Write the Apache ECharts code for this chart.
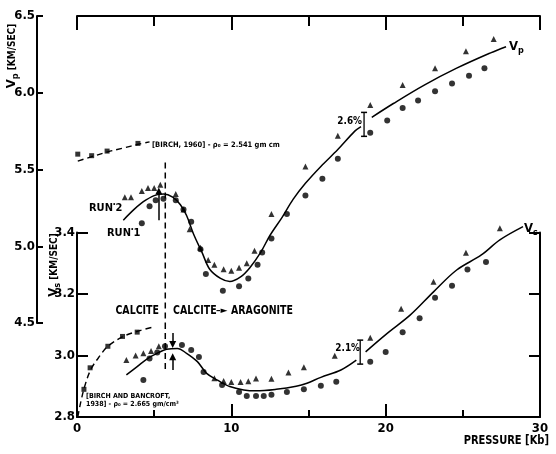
<!DOCTYPE html>
<html><head><meta charset="utf-8">
<script src="https://cdn.jsdelivr.net/npm/echarts@6/dist/echarts.min.js"></script>
<style>html,body{margin:0;padding:0;background:#fff}#c{width:556px;height:454px}</style>
</head><body><div id="c"></div>
<script>
// ---------- data ----------
// Vp, run 1 (circles)
const vpRun1P = [4.2,4.7,5.1,5.6,6.4,6.9,7.4,8.0,8.35,9.45,10.5,11.1,11.7,12.0,12.6,13.6,14.8,15.9,16.9,19.0,20.1,21.1,22.1,23.2,24.3,25.4,26.4];
const vpRun1V = [5.15,5.26,5.30,5.31,5.30,5.24,5.16,4.98,4.82,4.71,4.74,4.79,4.88,4.96,5.05,5.21,5.33,5.44,5.57,5.74,5.82,5.90,5.95,6.01,6.06,6.11,6.16];
// Vp, run 2 (triangles)
const vpRun2P = [3.1,3.5,4.2,4.6,5.0,5.4,6.4,6.9,7.3,8.0,8.5,8.9,9.5,10.0,10.5,11.0,11.5,12.6,14.8,16.9,19.0,21.1,23.2,25.2,27.0];
const vpRun2V = [5.32,5.32,5.36,5.38,5.38,5.40,5.34,5.24,5.11,4.99,4.91,4.88,4.85,4.84,4.86,4.89,4.97,5.21,5.52,5.72,5.92,6.05,6.16,6.27,6.35];
// Vp fitted curve (two pieces, broken at the 2.6% bar)
const vpFitAP = [3.0,3.7,4.3,5.0,5.6,6.2,6.7,7.1,7.55,8.1,8.6,9.3,9.9,10.6,11.2,11.9,12.5,13.3,14.0,14.8,15.8,16.9,18.0,18.4];
const vpFitAV = [5.17,5.24,5.29,5.33,5.34,5.32,5.27,5.20,5.08,4.96,4.85,4.79,4.77,4.80,4.86,4.96,5.07,5.19,5.305,5.41,5.52,5.63,5.75,5.78];
const vpFitBP = [19.1,20.5,22.5,24.6,26.8,27.8];
const vpFitBV = [5.84,5.93,6.05,6.16,6.26,6.30];
// Birch 1960 Vp
const birchP = [0.05,0.95,1.95,3.95];
const birchV = [5.60,5.59,5.62,5.67];
const birchFitP = [0.05,1.0,2.0,3.0,4.0,4.7];
const birchFitV = [5.555,5.585,5.615,5.64,5.665,5.68];

// Vs, run 1 (circles)
const vsRun1P = [4.3,4.7,5.2,5.7,6.8,7.4,7.9,8.2,9.4,10.5,11.0,11.6,12.1,12.6,13.6,14.7,15.8,16.8,19.0,20.0,21.1,22.2,23.2,24.3,25.3,26.5];
const vsRun1V = [2.92,2.99,3.01,3.03,3.034,3.018,2.995,2.946,2.904,2.881,2.868,2.868,2.868,2.872,2.881,2.89,2.902,2.915,2.98,3.011,3.076,3.121,3.188,3.227,3.28,3.304];
// Vs, run 2 (triangles)
const vsRun2P = [3.2,3.8,4.3,4.8,5.3,8.9,9.5,10.0,10.6,11.1,11.6,12.6,13.7,14.7,16.7,19.0,21.0,23.1,25.2,27.4];
const vsRun2V = [2.985,3.00,3.007,3.015,3.03,2.926,2.917,2.914,2.914,2.916,2.925,2.924,2.945,2.962,2.999,3.058,3.152,3.24,3.334,3.414];
// Vs fitted curve
const vsFitAP = [3.2,3.9,4.6,5.3,5.8,6.5,7.1,7.8,8.4,9.1,9.9,10.8,11.6,12.9,14.2,14.9,15.8,17.1,18.1];
const vsFitAV = [2.937,2.964,2.991,3.01,3.02,3.023,3.007,2.98,2.942,2.92,2.899,2.888,2.885,2.89,2.90,2.91,2.929,2.953,2.985];
const vsFitBP = [18.7,20.1,21.6,23.1,24.6,26.2,27.4,28.9];
const vsFitBV = [3.012,3.072,3.132,3.207,3.278,3.327,3.376,3.419];
// Birch & Bancroft 1938 Vs
const bbP = [0.45,0.85,2.0,2.95,3.9];
const bbV = [2.89,2.96,3.03,3.062,3.076];
const bbFitP = [0.05,0.25,0.5,0.9,1.5,2.0,3.0,4.0,4.9];
const bbFitV = [2.80,2.85,2.90,2.955,3.0,3.03,3.062,3.08,3.092];

// transition marker and annotations
const transitionP = 5.72;
const vpDashV = [5.545, 4.5];
const vsDashV = [3.106, 2.95];
const vpArrow = [[5.3,5.17],[5.3,5.36]];
const vsArrowDown = [[6.2,3.073],[6.2,3.036]];
const vsArrowUp = [[6.2,2.953],[6.2,2.996]];
const vpErrBar = [[18.6,5.716],[18.6,5.872]];
const vsErrBar = [[18.35,2.972],[18.35,3.05]];

const vpTicks = [4.5,5.0,5.5,6.0,6.5];
const vsTicks = [2.8,3.0,3.2,3.4];
const pTicks = [0,10,20,30];

// ---------- chart ----------
const zip = (a,b) => a.map((v,i)=>[v,b[i]]);
const FONT = '"Liberation Sans Narrow","DejaVu Sans Condensed","Liberation Sans",sans-serif';
const K = '#000';
const chart = echarts.init(document.getElementById('c'));

function scatter(g, P, V, sym, size){
  return {type:'scatter', xAxisIndex:g, yAxisIndex:g, data:zip(P,V), symbol:sym, symbolSize:size,
          itemStyle:{color:K}, silent:true, clip:false, z:5};
}
function curve(g, P, V, dash, w){
  return {type:'line', xAxisIndex:g, yAxisIndex:g, data:zip(P,V), smooth:0.35, showSymbol:false,
          symbol:'none', lineStyle:{color:K, width:w||1.5, type:dash||'solid'}, silent:true, clip:false, z:4};
}
function vline(g, V){
  return {type:'line', xAxisIndex:g, yAxisIndex:g, data:V.map(v=>[transitionP,v]), showSymbol:false, symbol:'none',
          lineStyle:{color:K,width:1.5,type:[6,4]}, silent:true, clip:false, z:4};
}
function arrow(g, pts){
  return {type:'lines', coordinateSystem:'cartesian2d', xAxisIndex:g, yAxisIndex:g,
          symbol:['none','triangle'], symbolSize:[0,7],
          lineStyle:{color:K, width:1.5, opacity:1}, data:[{coords:pts}], silent:true, z:6};
}
function errbar(g, pts){
  return {type:'line', xAxisIndex:g, yAxisIndex:g, data:pts, showSymbol:true, symbol:'rect', symbolSize:[6,1.5],
          itemStyle:{color:K}, lineStyle:{color:K,width:1.3}, silent:true, clip:false, z:6};
}
function txt(x, y, text, size, align, extra){
  return Object.assign({type:'text', x:x, y:y, style:{text:text, align:align||'left', verticalAlign:'middle',
    fontFamily:FONT, fontWeight:'bold', fontSize:size, fill:K}}, extra||{});
}
const axLine = () => ({show:true, onZero:false, lineStyle:{color:K, width:2}});
const tick = (len) => ({show:true, inside:true, length:len, lineStyle:{color:K, width:2}});
const lbl = (extra) => Object.assign({fontFamily:FONT, fontWeight:'bold', fontSize:13, color:K}, extra);
const off = {show:false};
const sub = (a, b, bs) => ({
  v:{fontFamily:FONT,fontWeight:'bold',fontSize:a,fill:K},
  s:{fontFamily:FONT,fontWeight:'bold',fontSize:b,fill:K,padding:[7,0,0,0]},
  t:{fontFamily:FONT,fontWeight:'bold',fontSize:bs||b,fill:K}});

const option = {
  animation:false,
  grid:[
    {show:false, left:77, right:16, top:16, height:307},          // Vp data
    {show:false, left:77, right:16, top:232.5, bottom:37},        // Vs data
    {show:false, left:37, width:2, top:16, height:307}            // Vp scale (outer axis)
  ],
  xAxis:[
    {gridIndex:0, type:'value', position:'top', min:0, max:30, interval:10,
     axisLine:axLine(), axisTick:tick(14),
     minorTick:{show:true, splitNumber:2, length:10, lineStyle:{color:K,width:2}},
     axisLabel:off, splitLine:off, splitArea:off},
    {gridIndex:1, type:'value', position:'bottom', min:0, max:30, interval:10,
     axisLine:axLine(), axisTick:tick(13),
     minorTick:{show:true, splitNumber:2, length:7, lineStyle:{color:K,width:2}},
     axisLabel:lbl({margin:5, formatter:v=>pTicks.includes(v)?String(v):''}),
     splitLine:off, splitArea:off},
    {gridIndex:2, type:'value', min:0, max:1, show:false}
  ],
  yAxis:[
    {gridIndex:0, type:'value', min:4.5, max:6.5, show:false},
    {gridIndex:1, type:'value', position:'left', min:2.8, max:3.4, interval:0.2,
     axisLine:axLine(), axisTick:tick(11),
     axisLabel:lbl({margin:2, formatter:v=>vsTicks.includes(+v.toFixed(1))?v.toFixed(1):''}),
     splitLine:off, splitArea:off},
    {gridIndex:1, type:'value', position:'right', min:2.8, max:3.4, interval:0.2,
     axisLine:axLine(), axisTick:tick(11),
     axisLabel:off, splitLine:off, splitArea:off},
    {gridIndex:2, type:'value', position:'left', min:4.5, max:6.5, interval:0.5,
     axisLine:axLine(), axisTick:tick(6),
     axisLabel:lbl({margin:2, formatter:v=>vpTicks.includes(+v.toFixed(1))?v.toFixed(1):''}),
     splitLine:off, splitArea:off}
  ],
  series:[
    // Vp
    scatter(0, vpRun1P, vpRun1V, 'circle', 6),
    scatter(0, vpRun2P, vpRun2V, 'triangle', 6),
    curve(0, vpFitAP, vpFitAV),
    curve(0, vpFitBP, vpFitBV),
    scatter(0, birchP, birchV, 'rect', 5),
    curve(0, birchFitP, birchFitV, [6,4], 1.4),
    vline(0, vpDashV),
    arrow(0, vpArrow),
    errbar(0, vpErrBar),
    // Vs
    scatter(1, vsRun1P, vsRun1V, 'circle', 6),
    scatter(1, vsRun2P, vsRun2V, 'triangle', 6),
    curve(1, vsFitAP, vsFitAV),
    curve(1, vsFitBP, vsFitBV),
    scatter(1, bbP, bbV, 'rect', 5),
    curve(1, bbFitP, bbFitV, [6,4], 1.4),
    vline(1, vsDashV),
    arrow(1, vsArrowDown),
    arrow(1, vsArrowUp),
    errbar(1, vsErrBar)
  ],
  graphic:[
    {type:'text', x:12, y:56, rotation:Math.PI/2, style:{
      text:'{v|V}{s|p}{t| [KM/SEC]}', align:'center', verticalAlign:'middle', rich:sub(13,9,10)}},
    {type:'text', x:54, y:265, rotation:Math.PI/2, style:{
      text:'{v|V}{s|s}{t| [KM/SEC]}', align:'center', verticalAlign:'middle', rich:sub(13,9,10)}},
    txt(549, 441, 'PRESSURE [Kb]', 12, 'right', {scaleX:0.92}),
    {type:'text', x:509, y:47, style:{text:'{v|V}{s|p}', align:'left', verticalAlign:'middle', rich:sub(13,9)}},
    {type:'text', x:524, y:229, style:{text:'{v|V}{s|s}', align:'left', verticalAlign:'middle', rich:sub(13,9)}},
    txt(152, 145, '[BIRCH, 1960] - ρ₀ = 2.541 gm cm', 7.5),
    {type:'text', x:86, y:400, style:{text:'[BIRCH AND BANCROFT,\n1938] - ρ₀ = 2.665 gm/cm³', align:'left', verticalAlign:'middle',
      fontFamily:FONT, fontWeight:'bold', fontSize:7, lineHeight:8, fill:K}},
    {type:'text', x:89, y:208, style:{text:'{a|RUN}{d|•}{a|2}', align:'left', verticalAlign:'middle',
      rich:{a:{fontFamily:FONT,fontWeight:'bold',fontSize:11,fill:K}, d:{fontSize:7,fill:K,padding:[0,0,8,0]}}}},
    {type:'text', x:107, y:233, style:{text:'{a|RUN}{d|•}{a|1}', align:'left', verticalAlign:'middle',
      rich:{a:{fontFamily:FONT,fontWeight:'bold',fontSize:11,fill:K}, d:{fontSize:7,fill:K,padding:[0,0,8,0]}}}},
    txt(159, 311, 'CALCITE', 12.5, 'right', {scaleX:0.84}),
    txt(173, 311, 'CALCITE', 12.5, 'left', {scaleX:0.84}),
    {type:'text', x:216, y:311, style:{text:'–►', align:'left', verticalAlign:'middle', fontFamily:'"DejaVu Sans"', fontWeight:'bold', fontSize:9, fill:K}},
    txt(293, 311, 'ARAGONITE', 12.5, 'right', {scaleX:0.84}),
    txt(362, 121, '2.6%', 11, 'right', {scaleX:0.9}),
    txt(360, 348, '2.1%', 11, 'right', {scaleX:0.9})
  ]
};
chart.setOption(option);
</script>
</body></html>
